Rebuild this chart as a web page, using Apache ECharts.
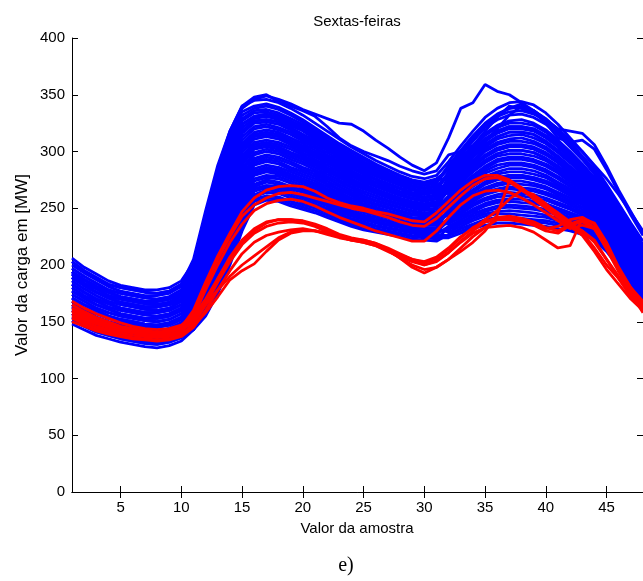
<!DOCTYPE html>
<html>
<head>
<meta charset="utf-8">
<script src="https://cdn.jsdelivr.net/npm/echarts@6/dist/echarts.min.js"></script>
<style>
  html, body { margin: 0; padding: 0; background: #fff; }
  #chart { width: 643px; height: 581px; }
</style>
</head>
<body>
<div id="chart"></div>
<script>
// Sample index (half-hour steps of the day)
const samples = [1,2,3,4,5,6,7,8,9,10,11,12,13,14,15,16,17,18,19,20,21,22,23,24,25,26,27,28,29,30,31,32,33,34,35,36,37,38,39,40,41,42,43,44,45,46,47,48];
const xTickValues = [5,10,15,20,25,30,35,40,45];
const yTickValues = [0,50,100,150,200,250,300,350,400];

// Friday load curves [MW] — regular days
const blueCurves = [
  [154,149,143,140,137,135,133,132,134,138,143,155,175,200,230,253,257,256,252,249,246,242,238,234,231,229,227,225,223,222,221,227,232,236,240,242,242,241,240,239,237,234,231,225,215,201,185,168],
  [148,143,138,135,132,130,128,127,129,133,143,160,181,206,236,258,261,260,256,253,250,246,242,238,234,232,230,228,226,225,224,224,228,232,235,237,237,236,235,234,232,230,227,222,212,198,182,165],
  [160,154,149,145,142,140,138,137,139,144,150,164,186,212,241,262,266,265,261,257,254,250,245,241,238,235,233,231,229,227,227,234,240,245,249,252,253,252,251,249,246,242,238,232,221,206,190,173],
  [151,146,141,138,135,133,131,130,132,136,147,169,192,218,247,267,270,269,265,261,258,253,249,245,241,238,236,234,231,230,230,231,236,241,245,247,248,247,246,244,241,238,234,229,218,204,188,171],
  [165,160,154,150,147,145,143,142,144,149,156,174,198,224,252,271,275,273,269,266,262,257,253,248,244,242,239,236,234,233,233,241,247,254,259,262,264,263,262,259,255,251,245,238,227,212,196,179],
  [157,151,146,143,140,138,136,135,137,141,153,178,203,230,258,276,279,278,274,270,266,261,256,252,248,245,242,239,237,236,236,237,243,249,254,257,258,258,256,254,250,246,242,235,224,209,193,176],
  [171,165,160,155,152,150,148,147,149,154,163,183,209,235,263,281,284,282,278,274,270,265,260,255,251,248,245,242,240,238,238,247,255,262,268,272,274,274,272,269,264,259,253,245,233,218,201,185],
  [163,157,152,148,145,143,141,140,142,146,160,188,215,241,269,285,288,286,282,278,274,269,264,259,254,251,248,245,242,241,241,244,251,258,264,267,269,268,267,264,260,255,249,242,230,215,199,182],
  [177,171,165,161,157,155,153,153,155,160,169,192,220,247,274,290,293,291,286,282,278,272,267,262,258,254,251,248,245,244,244,254,263,271,278,282,285,285,283,279,273,267,260,251,239,223,207,190],
  [168,162,157,153,150,148,146,145,147,152,166,197,226,253,280,294,297,295,291,286,282,276,271,266,261,257,254,251,248,246,247,251,259,266,273,277,279,279,277,274,269,263,256,248,236,220,204,187],
  [183,176,170,166,162,160,158,158,160,165,176,202,232,259,285,299,302,300,295,291,286,280,275,269,265,261,257,254,251,249,250,261,270,279,287,293,295,295,293,289,283,275,267,258,244,229,212,196],
  [174,168,162,158,155,153,151,150,152,157,173,206,237,265,291,304,306,304,299,295,289,284,278,273,268,264,260,257,253,252,253,258,267,275,283,288,290,290,288,284,278,271,264,255,242,226,210,193],
  [189,182,176,171,167,165,163,163,165,170,182,211,243,271,296,308,310,308,304,299,293,288,282,276,271,267,263,259,256,254,256,268,278,288,297,303,306,306,304,299,292,283,274,264,250,234,218,201],
  [180,173,168,163,160,158,156,155,157,162,179,215,248,277,302,313,315,313,308,303,297,292,285,280,275,270,266,262,259,257,259,264,274,284,292,298,301,301,299,294,287,279,271,261,247,232,215,199],
  [194,187,181,176,172,170,168,168,170,175,189,220,254,283,307,317,319,317,312,307,301,295,289,283,278,273,269,265,262,260,262,274,286,297,306,313,317,317,315,309,301,292,282,271,256,240,223,207],
  [186,179,173,168,165,163,161,160,162,168,186,225,260,289,313,322,324,321,317,311,305,299,293,287,281,276,272,268,264,263,265,271,282,292,302,308,311,312,309,304,296,287,278,268,253,237,221,204],
  [200,193,187,181,177,175,173,173,175,181,195,229,265,294,318,327,328,326,321,315,309,303,296,290,285,279,275,271,267,265,267,281,294,305,316,323,327,328,325,319,310,300,289,277,262,246,229,213],
  [192,184,179,173,170,168,166,165,167,173,192,234,271,300,324,331,333,330,325,320,313,307,300,294,288,283,278,274,270,268,270,278,290,301,311,318,322,322,320,314,306,296,285,274,259,243,226,210],
  [206,198,192,186,182,180,178,178,180,186,202,239,277,306,329,336,337,334,329,324,317,310,304,297,291,286,281,276,273,271,273,288,301,314,325,333,338,339,336,329,319,308,296,284,268,251,234,218],
  [197,190,184,178,175,173,171,170,172,178,199,243,282,312,335,340,342,339,334,328,321,314,307,301,295,289,284,279,275,273,276,284,297,309,321,328,332,333,330,324,315,304,293,280,265,248,232,215],
  [203,195,189,183,180,178,176,175,177,183,205,248,288,318,340,345,346,343,338,332,325,318,311,304,298,292,287,282,278,276,279,291,305,318,330,338,343,344,341,334,324,312,300,287,271,254,237,221],
  [165,160,154,150,147,145,143,142,144,149,169,214,246,274,299,311,313,311,306,301,295,290,284,278,273,269,265,261,258,256,258,278,290,301,311,318,322,322,320,314,306,296,285,274,259,243,226,210],
  [183,176,170,166,162,160,158,158,160,165,169,183,209,235,263,281,284,282,278,274,270,265,260,255,251,248,245,242,240,238,238,237,243,249,254,257,258,258,256,254,250,246,242,235,224,209,193,176],
  [189,182,176,171,167,165,163,163,165,170,192,234,271,300,324,331,333,330,325,320,313,307,300,294,288,283,278,274,270,268,270,264,274,284,292,298,301,301,299,294,287,279,271,261,247,232,215,199],
  [171,165,160,155,152,150,148,147,149,154,160,169,192,218,247,267,270,269,265,261,258,253,249,245,241,238,236,234,231,230,230,251,259,266,273,277,279,279,277,274,269,263,256,248,236,220,204,187],
  [194,187,181,176,172,170,168,168,170,175,186,206,237,265,291,304,306,304,299,295,289,284,278,273,268,264,260,257,253,252,253,274,286,297,306,313,317,317,315,309,301,292,282,271,256,240,223,207],
  [157,151,146,143,140,138,136,135,137,141,147,158,178,203,233,256,259,258,254,251,248,244,240,236,233,231,229,227,225,224,223,233,238,243,247,250,251,250,249,247,244,240,236,231,220,205,189,172],
  [151,146,141,138,135,133,131,130,132,136,143,162,184,209,239,260,264,263,259,255,252,248,244,240,236,234,232,230,228,226,226,226,230,234,238,240,240,239,238,237,235,232,229,224,214,200,184,167],
  [163,157,152,148,145,143,141,140,142,146,153,167,189,215,244,265,268,267,263,259,256,252,247,243,240,237,235,233,230,229,229,239,245,252,257,260,261,261,259,257,253,249,244,237,226,211,195,178],
  [154,149,143,140,137,135,133,132,134,138,150,172,195,221,250,269,273,271,267,264,260,255,251,247,243,240,238,235,233,232,232,229,234,239,243,245,245,244,243,242,239,236,233,227,217,203,187,170],
  [168,162,157,153,150,148,146,145,147,152,160,176,201,227,255,274,277,276,272,268,264,259,255,250,246,244,241,238,236,235,235,246,253,260,266,270,272,271,270,267,262,257,251,244,232,217,200,184],
  [160,154,149,145,142,140,138,137,139,144,156,181,206,233,261,279,282,280,276,272,268,263,258,254,250,247,244,241,239,237,237,236,242,247,252,255,256,255,254,252,248,244,240,234,223,208,192,175],
  [174,168,162,158,155,153,151,150,152,157,166,186,212,238,266,283,286,284,280,276,272,267,262,257,253,250,247,244,241,240,240,253,261,269,276,280,282,282,280,277,271,265,258,250,238,222,206,189],
  [165,160,154,150,147,145,143,142,144,149,163,190,218,244,272,288,291,289,284,280,276,271,266,261,256,253,250,247,244,243,243,243,249,256,262,265,267,266,265,262,258,253,247,240,229,214,198,181],
  [180,173,168,163,160,158,156,155,157,162,173,195,223,250,277,292,295,293,289,284,280,274,269,264,260,256,253,250,247,245,246,260,269,277,285,291,293,293,291,287,281,273,266,257,243,228,211,195],
  [171,165,160,155,152,150,148,147,149,154,169,200,229,256,283,297,300,298,293,289,284,278,273,268,263,259,256,253,250,248,249,249,257,264,271,275,277,277,275,272,267,261,255,247,235,219,203,186],
  [186,179,173,168,165,163,161,160,162,168,179,204,235,262,288,302,304,302,297,293,288,282,277,271,267,263,259,256,252,251,252,266,276,286,295,301,304,304,302,297,290,281,273,263,249,233,217,200],
  [177,171,165,161,157,155,153,153,155,160,176,209,240,268,294,306,308,306,302,297,291,286,280,275,270,266,262,258,255,253,255,256,265,273,281,285,288,288,286,282,276,269,262,253,241,225,209,192],
  [192,184,179,173,170,168,166,165,167,173,186,218,251,280,305,315,317,315,310,305,299,294,287,282,277,272,268,264,261,259,261,273,284,295,304,311,314,315,312,307,299,290,280,270,255,239,222,206],
  [183,176,170,166,162,160,158,158,160,165,182,223,257,286,310,320,322,319,315,309,303,297,291,285,280,275,271,267,263,262,264,263,272,282,290,296,298,298,296,292,285,277,269,260,246,231,214,198],
  [197,190,184,178,175,173,171,170,172,178,192,227,263,292,316,325,326,324,319,313,307,301,295,289,283,278,274,270,266,264,266,280,292,303,314,321,325,325,323,317,308,298,287,276,261,245,228,212],
  [189,182,176,171,167,165,163,163,165,170,189,232,268,297,321,329,331,328,323,318,311,305,298,292,287,281,277,273,269,267,269,270,280,290,300,306,309,309,307,302,294,285,276,266,252,236,220,203],
  [203,195,189,183,180,178,176,175,177,183,199,237,274,303,327,334,335,332,327,322,315,309,302,296,290,285,280,275,272,270,272,286,299,312,323,331,335,336,333,327,317,306,295,282,267,250,233,217],
  [194,187,181,176,172,170,168,168,170,175,195,241,280,309,332,338,340,337,332,326,319,312,306,299,293,288,283,278,274,272,275,276,288,299,309,316,320,320,318,312,304,294,284,273,258,242,225,209],
  [189,182,176,171,167,165,163,163,165,170,190,240,282,315,338,346,349,346,342,337,333,329,325,324,318,310,303,295,288,283,290,312,338,343,359,353,350,343,336,328,318,306,295,282,265,250,232,215],
  [194,187,181,176,172,170,168,168,170,175,195,245,285,318,340,348,350,344,340,336,331,322,312,305,300,296,292,287,283,280,283,297,300,305,318,330,340,338,334,328,320,310,300,288,276,262,246,230],
  [177,171,165,161,157,155,153,153,155,160,172,215,248,277,302,313,315,313,308,303,297,292,285,280,275,270,266,262,259,257,259,270,282,295,308,320,332,340,336,328,320,318,316,306,287,266,247,228],
  [192,184,179,173,170,168,166,165,167,173,188,229,265,294,318,327,328,326,321,315,309,303,296,290,285,279,275,271,267,265,267,282,296,310,322,332,338,342,335,325,312,308,310,302,284,264,244,226]
];

// Friday load curves [MW] — atypical days
const redCurves = [
  [160,155,151,147,144,142,141,140,141,145,160,185,208,228,247,259,266,269,270,269,265,259,255,252,250,247,245,242,239,238,246,256,266,274,279,279,275,268,260,253,246,238,228,215,200,188,175,164],
  [165,159,154,150,146,144,142,141,142,146,158,182,205,225,243,253,259,263,264,262,259,256,253,250,248,245,242,238,235,234,241,251,261,270,276,277,273,266,259,251,243,236,230,220,205,190,176,165],
  [157,152,148,145,142,140,138,137,138,142,155,178,200,220,236,248,254,257,258,256,252,247,242,238,234,230,227,224,221,221,230,242,253,261,265,266,264,259,253,246,239,232,235,232,215,196,180,168],
  [168,162,157,153,149,146,144,143,144,147,155,170,188,205,220,230,237,240,240,238,235,230,226,223,222,219,214,209,205,202,206,214,224,233,238,240,240,238,235,230,228,235,238,232,215,196,178,163],
  [153,148,144,141,138,136,135,134,135,138,148,165,185,203,218,228,234,237,238,237,234,229,225,222,220,217,212,207,203,200,203,211,220,228,233,234,235,233,229,222,215,217,241,237,220,198,180,166],
  [150,146,142,139,137,135,134,133,134,137,145,160,178,195,210,220,226,229,231,232,230,227,224,222,221,218,213,206,200,196,198,205,212,220,230,244,274,268,258,250,242,234,226,212,196,183,170,160],
  [162,157,152,148,145,143,141,140,141,144,152,168,188,207,222,232,238,240,240,239,236,232,227,224,222,219,215,210,205,203,207,215,225,232,240,248,258,266,262,254,245,236,230,222,205,188,172,160],
  [155,150,146,143,140,138,137,136,137,140,146,158,172,187,195,201,212,222,228,230,230,228,225,222,220,217,213,206,198,193,198,205,215,225,233,240,242,240,236,232,234,240,242,236,218,196,175,158],
  [159,154,149,146,143,141,139,138,139,142,150,165,178,190,200,208,216,224,229,231,230,228,225,223,221,218,214,209,204,200,204,211,221,230,238,242,243,241,238,233,230,236,240,233,214,194,176,161]
];

const sansFont = '"Liberation Sans", Arial, Helvetica, sans-serif';
const serifFont = '"Liberation Serif", "Times New Roman", serif';

function makeSeries(curves, color) {
  return curves.map(function (curve) {
    return {
      type: 'line',
      xAxisIndex: 0,
      yAxisIndex: 0,
      data: samples.map(function (x, i) { return [x, curve[i]]; }),
      showSymbol: false,
      symbol: 'none',
      silent: true,
      lineStyle: { color: color, width: 2.8 },
      itemStyle: { color: color },
      emphasis: { disabled: true }
    };
  });
}

const axisLineStyle = { color: '#000', width: 1 };
const tickStyle = { color: '#000', width: 1 };

const chart = echarts.init(document.getElementById('chart'), null, { renderer: 'canvas' });

chart.setOption({
  animation: false,
  backgroundColor: '#fff',
  grid: { left: 72, right: -1, top: 38, bottom: 89 },
  xAxis: [
    {
      type: 'value', min: 1, max: 48, position: 'bottom',
      axisLine: { show: true, lineStyle: axisLineStyle },
      axisTick: { show: true, inside: true, length: 6, customValues: xTickValues, lineStyle: tickStyle },
      axisLabel: { show: true, customValues: xTickValues, color: '#000', fontSize: 15, fontFamily: sansFont, margin: 8 },
      splitLine: { show: false }
    },
    {
      type: 'value', min: 1, max: 48, position: 'top',
      axisLine: { show: true, lineStyle: axisLineStyle },
      axisTick: { show: true, inside: true, length: 6, customValues: xTickValues, lineStyle: tickStyle },
      axisLabel: { show: false },
      splitLine: { show: false }
    }
  ],
  yAxis: [
    {
      type: 'value', min: 0, max: 400, interval: 50, position: 'left',
      axisLine: { show: true, lineStyle: axisLineStyle },
      axisTick: { show: true, inside: true, length: 6, customValues: yTickValues, lineStyle: tickStyle },
      axisLabel: { show: true, customValues: yTickValues, color: '#000', fontSize: 15, fontFamily: sansFont, margin: 7 },
      splitLine: { show: false }
    },
    {
      type: 'value', min: 0, max: 400, interval: 50, position: 'right',
      axisLine: { show: true, lineStyle: axisLineStyle },
      axisTick: { show: true, inside: true, length: 6, customValues: yTickValues, lineStyle: tickStyle },
      axisLabel: { show: false },
      splitLine: { show: false }
    }
  ],
  graphic: [
    { type: 'text', x: 357, y: 22, style: { text: 'Sextas-feiras', font: '15px ' + sansFont, fill: '#000', textAlign: 'center', textVerticalAlign: 'middle' } },
    { type: 'text', x: 357, y: 529, style: { text: 'Valor da amostra', font: '15px ' + sansFont, fill: '#000', textAlign: 'center', textVerticalAlign: 'middle' } },
    { type: 'text', x: 22, y: 265, rotation: Math.PI / 2, style: { text: 'Valor da carga em [MW]', font: '17px ' + sansFont, fill: '#000', textAlign: 'center', textVerticalAlign: 'middle' } },
    { type: 'text', x: 346, y: 566, style: { text: 'e)', font: '20px ' + serifFont, fill: '#000', textAlign: 'center', textVerticalAlign: 'middle' } }
  ],
  series: makeSeries(blueCurves, '#0000ff').concat(makeSeries(redCurves, '#ff0000'))
});
</script>
</body>
</html>
